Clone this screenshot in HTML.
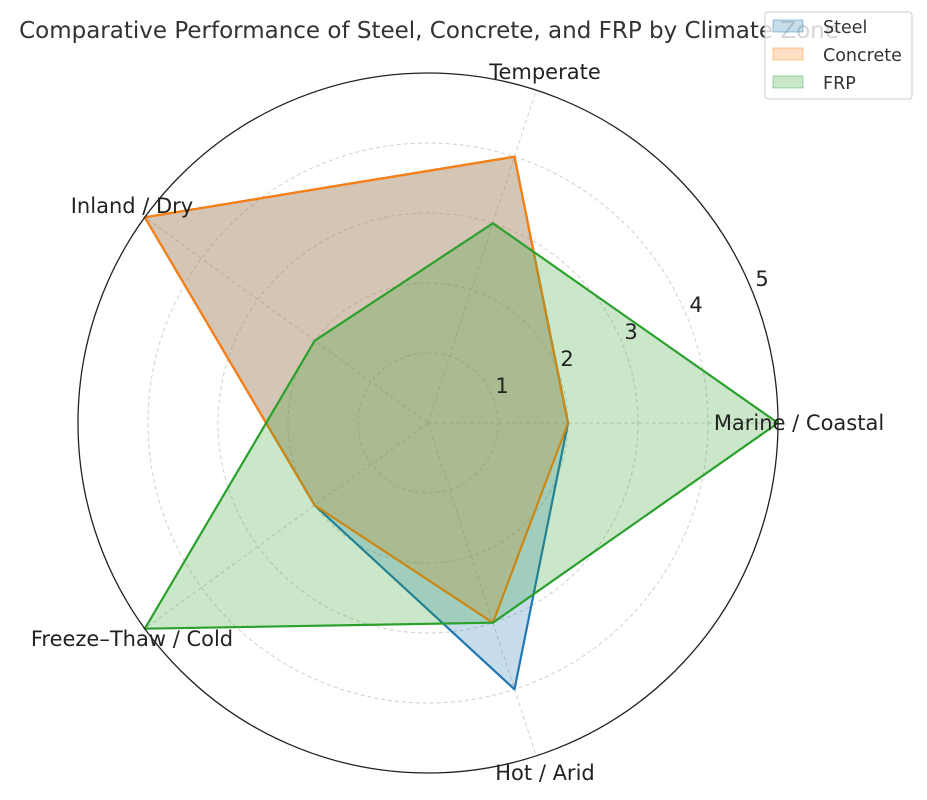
<!DOCTYPE html>
<html><head><meta charset="utf-8"><style>
html,body{margin:0;padding:0;background:#fff;}
svg{display:block;font-family:"DejaVu Sans","Liberation Sans",sans-serif;}
</style></head><body>
<svg width="927" height="800" viewBox="0 0 927 800" xmlns="http://www.w3.org/2000/svg">
<rect width="927" height="800" fill="#fff"/>
<g fill="none" stroke="#d0d0d0" stroke-width="1" stroke-dasharray="4,3">
<circle cx="428" cy="423" r="70"/>
<circle cx="428" cy="423" r="140"/>
<circle cx="428" cy="423" r="210"/>
<circle cx="428" cy="423" r="280"/>
<line x1="428" y1="423" x2="778" y2="423"/>
<line x1="428" y1="423" x2="536.2" y2="90.1"/>
<line x1="428" y1="423" x2="144.8" y2="217.3"/>
<line x1="428" y1="423" x2="144.8" y2="628.7"/>
<line x1="428" y1="423" x2="536.2" y2="755.9"/>
</g>
<g stroke-width="2.2" stroke-linejoin="round">
<polygon points="568,423 514.5,156.7 144.8,217.3 314.7,505.3 514.5,689.3" fill="rgba(31,119,180,0.25)" stroke="#1f77b4"/>
<polygon points="568,423 514.5,156.7 144.8,217.3 314.7,505.3 492.9,622.7" fill="rgba(255,127,14,0.25)" stroke="#ff7f0e"/>
<polygon points="778,423 492.9,223.3 314.7,340.7 144.8,628.7 492.9,622.7" fill="rgba(44,160,44,0.25)" stroke="#2ca02c"/>
</g>
<circle cx="428" cy="423" r="350" fill="none" stroke="#222" stroke-width="1.3"/>
<g font-size="21" fill="#222">
<text x="502" y="393" text-anchor="middle">1</text>
<text x="567" y="366" text-anchor="middle">2</text>
<text x="631" y="339" text-anchor="middle">3</text>
<text x="696" y="312" text-anchor="middle">4</text>
<text x="762" y="286" text-anchor="middle">5</text>
<text x="545" y="79" text-anchor="middle">Temperate</text>
<text x="132" y="213" text-anchor="middle">Inland / Dry</text>
<text x="132" y="646" text-anchor="middle">Freeze–Thaw / Cold</text>
<text x="545" y="780" text-anchor="middle">Hot / Arid</text>
<text x="799" y="430" text-anchor="middle">Marine / Coastal</text>
</g>
<text x="429" y="38" text-anchor="middle" font-size="23" fill="#333">Comparative Performance of Steel, Concrete, and FRP by Climate Zone</text>
<g>
<rect x="765" y="12" width="147" height="87" rx="3" fill="rgba(255,255,255,0.8)" stroke="#ccc"/>
<rect x="773" y="20" width="30" height="12" fill="rgba(31,119,180,0.25)" stroke="rgba(31,119,180,0.4)"/>
<rect x="773" y="48" width="30" height="12" fill="rgba(255,127,14,0.25)" stroke="rgba(255,127,14,0.4)"/>
<rect x="773" y="76" width="30" height="12" fill="rgba(44,160,44,0.25)" stroke="rgba(44,160,44,0.4)"/>
<g font-size="17.5" fill="#333">
<text x="823" y="33">Steel</text>
<text x="823" y="61">Concrete</text>
<text x="823" y="89">FRP</text>
</g>
</g>
</svg>
</body></html>
